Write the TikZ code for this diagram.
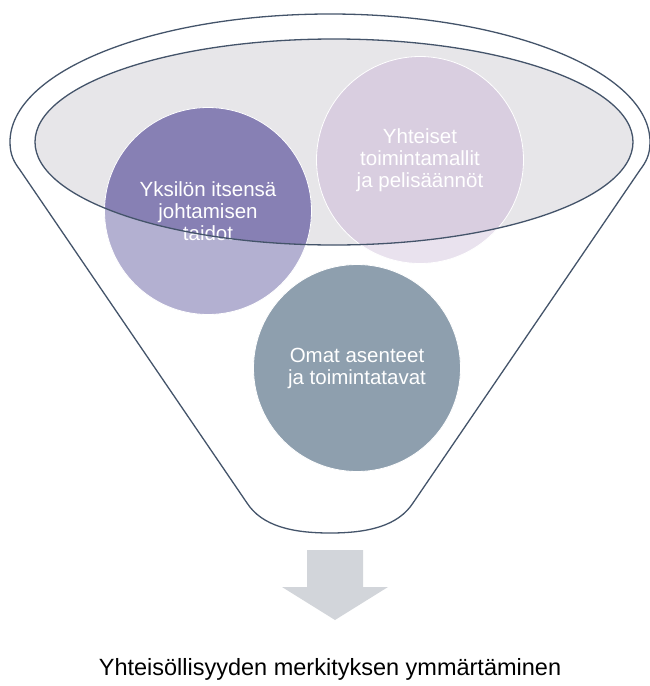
\documentclass[tikz,border=0pt]{standalone}
\usepackage{fontspec}
\setmainfont{Liberation Sans}
\usepackage{xcolor}
\usepackage{tikz}
\usetikzlibrary{shapes.geometric}
\definecolor{rim}{HTML}{44546A}
\definecolor{bowl}{HTML}{E7E6E9}
\definecolor{lilacA}{HTML}{B3B0D1}
\definecolor{lilacAdark}{HTML}{8780B4}
\definecolor{lilacB}{HTML}{E9E2EE}
\definecolor{lilacBdark}{HTML}{D9CEE0}
\definecolor{slate}{HTML}{8E9FAE}
\definecolor{arrowgray}{HTML}{D2D5DA}
\tikzstyle{bubble} = [circle, minimum size=207pt, inner sep=0pt, draw=white, line width=0.8pt, text=white, align=center, font=\fontsize{20.5}{22}\selectfont]
\tikzstyle{rimline} = [draw=rim, line width=1.3pt]
\tikzstyle{goaltext} = [font=\fontsize{23.5}{26}\selectfont, text=black]

\begin{document}
\begin{tikzpicture}[x=1pt,y=-1pt]
\useasboundingbox (0,0) rectangle (650,686);
\coordinate (bowlc) at (334,142);

% funnel
\draw[rimline, fill=white] (10,142) arc (180:360:320 and 128)
  .. controls (650,155) and (646,162) .. (640,170) -- (413,503)
  .. controls (398,526) and (368,533) .. (330,533)
  .. controls (292,533) and (262,526) .. (247,503) -- (20,170)
  .. controls (14,162) and (10,155) .. (10,142) -- cycle;
\fill[bowl] (bowlc) ellipse [x radius=299pt, y radius=103pt];

\node (c1)[bubble, fill=lilacA, path picture={\fill[lilacAdark] (bowlc) ellipse [x radius=299pt, y radius=103pt];}] at (208,211) {Yksilön itsensä\\johtamisen\\taidot};
\node (c2)[bubble, fill=lilacB, path picture={\fill[lilacBdark] (bowlc) ellipse [x radius=299pt, y radius=103pt];}] at (420,160) {Yhteiset\\toimintamallit\\ja pelisäännöt};
\node (c3)[bubble, fill=slate] at (357,368) {Omat asenteet\\ja toimintatavat};

\draw[rimline] (bowlc) ellipse [x radius=299pt, y radius=103pt];

% arrow down
\fill[arrowgray] (307,550) -- (363,550) -- (363,587) -- (388,587) -- (335,620) -- (282,587) -- (307,587) -- cycle;

\node (goal)[goaltext] at (330,669) {Yhteisöllisyyden merkityksen ymmärtäminen};
\end{tikzpicture}
\end{document}
